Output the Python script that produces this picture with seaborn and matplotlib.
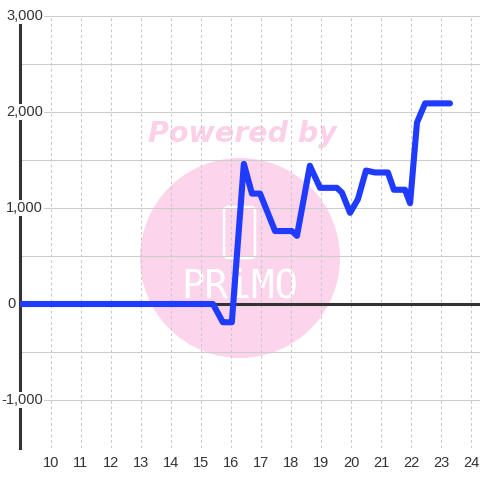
import matplotlib
matplotlib.use("Agg")
import matplotlib.pyplot as plt
import matplotlib.transforms as mtransforms
from matplotlib.patches import Ellipse, FancyBboxPatch
import seaborn as sns
import pandas as pd

# ---- data ----
hours = [9.0, 15.4, 15.73, 16.03, 16.43, 16.7, 16.97, 17.47, 18.03, 18.2, 18.63,
         18.97, 19.53, 19.7, 19.97, 20.23, 20.5, 20.8, 21.23, 21.43, 21.8, 21.97,
         22.2, 22.47, 23.3]
values = [0, 0, -190, -190, 1460, 1150, 1150, 760, 760, 710, 1440,
          1210, 1210, 1160, 950, 1090, 1390, 1370, 1370, 1190, 1190, 1050,
          1890, 2090, 2090]
x_ticks = list(range(10, 25))
y_grid = [-1500, -1000, -500, 0, 500, 1000, 1500, 2000, 2500, 3000]
y_label_vals = [3000, 2000, 1000, 0, -1000]
y_label_txt = ["3,000", "2,000", "1,000", "0", "-1,000"]

df = pd.DataFrame({"hour": hours, "value": values})

sns.set_theme(style="white")
plt.rcParams["font.family"] = ["Liberation Sans", "DejaVu Sans"]

W, H = 480, 480
fig = plt.figure(figsize=(4.8, 4.8), dpi=100)
L, R, T, B = 20, 480, 16, 448
ax = fig.add_axes([L / W, 1 - B / H, (R - L) / W, (B - T) / H])
ax.set_facecolor("white")

def axfrac(px, py):
    return (px - L) / (R - L), (B - py) / (B - T)

# watermark
cx, cy = axfrac(240, 258)
ax.add_patch(Ellipse((cx, cy), 200 / (R - L), 200 / (B - T), transform=ax.transAxes,
                     facecolor="#fcd5ec", edgecolor="none", zorder=0.1))
px, py = axfrac(242, 134)
ax.text(px, py, "Powered by", transform=ax.transAxes, ha="center", va="center",
        fontsize=20.5, fontweight="bold", fontstyle="italic", family="DejaVu Sans",
        color="#fcd0e8", zorder=0.2)
x0, y0 = axfrac(224, 258)
x1, y1 = axfrac(255, 207)
ax.add_patch(FancyBboxPatch((x0, y0), x1 - x0, y1 - y0, transform=ax.transAxes,
                            boxstyle="round,pad=0,rounding_size=0.01",
                            facecolor="none", edgecolor="white", lw=1.8, zorder=0.2))
tx, ty = axfrac(240, 287)
ax.text(tx, ty, "PRiMO", transform=ax.transAxes, ha="center", va="center",
        fontsize=28, family="DejaVu Sans Mono", fontweight="light",
        color="white", zorder=0.2)

# grids
ax.set_axisbelow(True)
ax.set_xlim(8.97, 24.3)
ax.set_ylim(-1500, 3000)
ax.set_yticks(y_grid)
ax.set_xticks(x_ticks)
ax.yaxis.grid(True, color="#cccccc", lw=0.75, ls="-")
ax.xaxis.grid(True, color="#c8c8c8", lw=0.75, ls=(0, (2.7, 2.7)))
ax.tick_params(axis="y", length=0, labelleft=False)
ax.tick_params(axis="x", length=0, pad=6, labelsize=10.5, labelcolor="#333333")
for s in ["top", "right", "bottom"]:
    ax.spines[s].set_visible(False)
ax.spines["left"].set_color("#333333")
ax.spines["left"].set_linewidth(2.2)
ax.spines["left"].set_zorder(1)

# zero line
ax.axhline(0, color="#333333", lw=2.2, zorder=1.2)

# data line
sns.lineplot(data=df, x="hour", y="value", ax=ax, sort=False, estimator=None,
             color="#1f3bff", lw=4.4, zorder=3)
ax.set_xlabel("")
ax.set_ylabel("")

# y labels with white background covering the spine
trans = mtransforms.blended_transform_factory(fig.transFigure, ax.transData)
for v, t in zip(y_label_vals, y_label_txt):
    xr = 16 if t == "0" else 43
    ax.text(xr / W, v, t, transform=trans, ha="right", va="center", fontsize=10.5,
            color="#333333", zorder=5, clip_on=False,
            bbox=dict(facecolor="white", edgecolor="none", pad=0.5))

fig.savefig("out.png", dpi=100)
